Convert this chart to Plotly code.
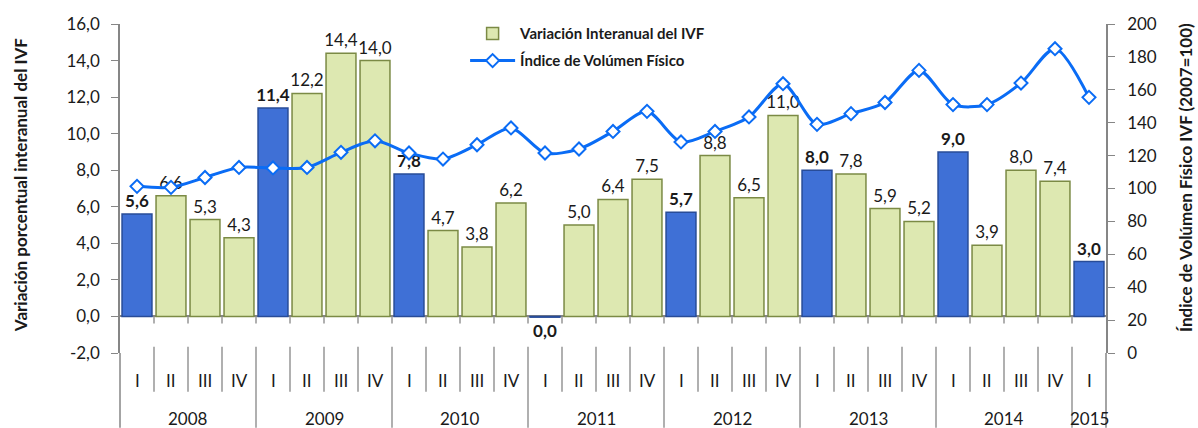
import plotly.graph_objects as go

# ---------------- data ----------------
quarters = ["I", "II", "III", "IV"] * 7 + ["I"]
year_labels = ["2008", "2009", "2010", "2011", "2012", "2013", "2014", "2015"]
quarters_per_year = [4, 4, 4, 4, 4, 4, 4, 1]

# Variación interanual del IVF (%)
ivf_var = [5.6, 6.6, 5.3, 4.3,
           11.4, 12.2, 14.4, 14.0,
           7.8, 4.7, 3.8, 6.2,
           -0.04, 5.0, 6.4, 7.5,
           5.7, 8.8, 6.5, 11.0,
           8.0, 7.8, 5.9, 5.2,
           9.0, 3.9, 8.0, 7.4,
           3.0]

# Índice de Volumen Físico (2007=100)
ivf_index = [101.3, 100.7, 106.7, 112.8,
             112.5, 112.8, 122.0, 129.0,
             121.6, 117.9, 126.6, 136.8,
             121.6, 124.0, 134.7, 146.9,
             128.3, 134.7, 143.5, 163.7,
             139.0, 145.5, 152.3, 171.8,
             151.0, 151.0, 164.1, 185.0,
             155.4]

left_ticks = [-2, 0, 2, 4, 6, 8, 10, 12, 14, 16]
right_ticks = [0, 20, 40, 60, 80, 100, 120, 140, 160, 180, 200]

FONT = "Lato"
GRAY = "#868686"
BAR_W = 0.88


def fmt(v):
    return f"{round(v, 1) + 0.0:.1f}".replace(".", ",")


idx = list(range(len(quarters)))
q1 = [i for i in idx if quarters[i] == "I"]
rest = [i for i in idx if quarters[i] != "I"]

fig = go.Figure()

fig.add_trace(go.Bar(
    x=rest, y=[ivf_var[i] for i in rest], width=BAR_W,
    text=[fmt(ivf_var[i]) for i in rest],
    textposition="outside", constraintext="none", cliponaxis=False,
    textfont=dict(family=FONT, size=17, color="#1a1a1a"),
    marker=dict(color="#dde8b1", line=dict(color="#7b8a45", width=1.5)),
    name="Variación Interanual del IVF", legend="legend",
    yaxis="y",
))
fig.add_trace(go.Bar(
    x=q1, y=[ivf_var[i] for i in q1], width=BAR_W,
    text=["<b>" + fmt(ivf_var[i]) + "</b>" for i in q1],
    textposition="outside", constraintext="none", cliponaxis=False,
    textfont=dict(family=FONT, size=17, color="#1a1a1a"),
    marker=dict(color="#3f70d6", line=dict(color="#284c98", width=1.5)),
    showlegend=False, yaxis="y",
))
fig.add_trace(go.Scatter(
    x=idx, y=ivf_index, mode="lines+markers",
    line=dict(color="#0a6cf5", width=3, shape="spline", smoothing=0.8),
    marker=dict(symbol="diamond", size=10, color="white",
                line=dict(color="#0a6cf5", width=2)),
    name="Índice de Volúmen Físico", legend="legend2",
    yaxis="y2",
))

shapes = []
# ticks under the zero line at category boundaries
for i in range(1, len(idx)):
    shapes.append(dict(type="line", xref="x", yref="y", x0=i - 0.5, x1=i - 0.5,
                       y0=0, y1=-0.38, line=dict(color=GRAY, width=1.3)))
# dividers in the category label area
year_starts = []
s = 0
for n in quarters_per_year:
    year_starts.append(s)
    s += n
for i in range(1, len(idx)):
    is_year = i in year_starts
    shapes.append(dict(type="line", xref="x", yref="paper", x0=i - 0.5, x1=i - 0.5,
                       y0=0.019, y1=-0.227 if is_year else -0.118,
                       line=dict(color=GRAY, width=1.3)))
for xp in (0, 1):
    shapes.append(dict(type="line", xref="paper", yref="paper", x0=xp, x1=xp,
                       y0=0, y1=-0.227, line=dict(color=GRAY, width=1.5)))

annotations = []
for i, q in enumerate(quarters):
    annotations.append(dict(x=i, y=0, xref="x", yref="paper", text=q, showarrow=False,
                            yanchor="middle", yshift=-27,
                            font=dict(family=FONT, size=17, color="#1a1a1a")))
for k, yl in enumerate(year_labels):
    c = year_starts[k] + (quarters_per_year[k] - 1) / 2
    annotations.append(dict(x=c, y=0, xref="x", yref="paper", text=yl, showarrow=False,
                            yanchor="middle", yshift=-65,
                            font=dict(family=FONT, size=17, color="#1a1a1a")))
annotations.append(dict(x=-0.1015, y=0.51, xref="paper", yref="paper",
                        xanchor="center", yanchor="middle",
                        text="<b>Variación porcentual interanual del IVF</b>",
                        textangle=-90, showarrow=False,
                        font=dict(family=FONT, size=17, color="#1a1a1a")))
annotations.append(dict(x=1.0805, y=0.533, xref="paper", yref="paper",
                        xanchor="center", yanchor="middle",
                        text="<b>Índice de Volúmen Físico IVF (2007=100)</b>",
                        textangle=-90, showarrow=False,
                        font=dict(family=FONT, size=17, color="#1a1a1a")))

fig.update_layout(
    width=1198, height=428,
    margin=dict(l=120, r=92, t=24, b=75),
    paper_bgcolor="white", plot_bgcolor="white",
    barmode="overlay",
    font=dict(family=FONT, size=17, color="#1a1a1a"),
    xaxis=dict(range=[-0.5, len(idx) - 0.5], showticklabels=False, ticks="",
               showgrid=False, zeroline=False, showline=False, fixedrange=True),
    yaxis=dict(range=[-2, 16], tickvals=left_ticks, ticktext=[fmt(v) for v in left_ticks],
               showgrid=False,
               zeroline=True, zerolinecolor=GRAY, zerolinewidth=1.5,
               showline=True, linecolor=GRAY, linewidth=1.5,
               ticks="outside", ticklen=7, tickcolor=GRAY, tickwidth=1.3,
               ticklabelstandoff=8,
               tickfont=dict(family=FONT, size=17, color="#1a1a1a")),
    yaxis2=dict(range=[0, 200], tickvals=right_ticks, ticktext=[str(v) for v in right_ticks],
                overlaying="y", side="right",
                showgrid=False, zeroline=False,
                showline=True, linecolor=GRAY, linewidth=1.5,
                ticks="outside", ticklen=7, tickcolor=GRAY, tickwidth=1.3,
                ticklabelstandoff=9,
                tickfont=dict(family=FONT, size=17, color="#1a1a1a")),
    legend=dict(x=0.35, y=0.97, xanchor="left", yanchor="middle",
                bgcolor="rgba(0,0,0,0)", itemwidth=45,
                font=dict(family=FONT, size=15, color="#1a1a1a", weight="bold")),
    legend2=dict(x=0.35, y=0.888, xanchor="left", yanchor="middle",
                 bgcolor="rgba(0,0,0,0)", itemwidth=45,
                 font=dict(family=FONT, size=15, color="#1a1a1a", weight="bold")),
    shapes=shapes,
    annotations=annotations,
    showlegend=True,
)

fig.write_html("out.html", config={"displayModeBar": False},
               post_script="document.body.style.margin='0';"
                           "document.body.style.overflow='hidden';")
